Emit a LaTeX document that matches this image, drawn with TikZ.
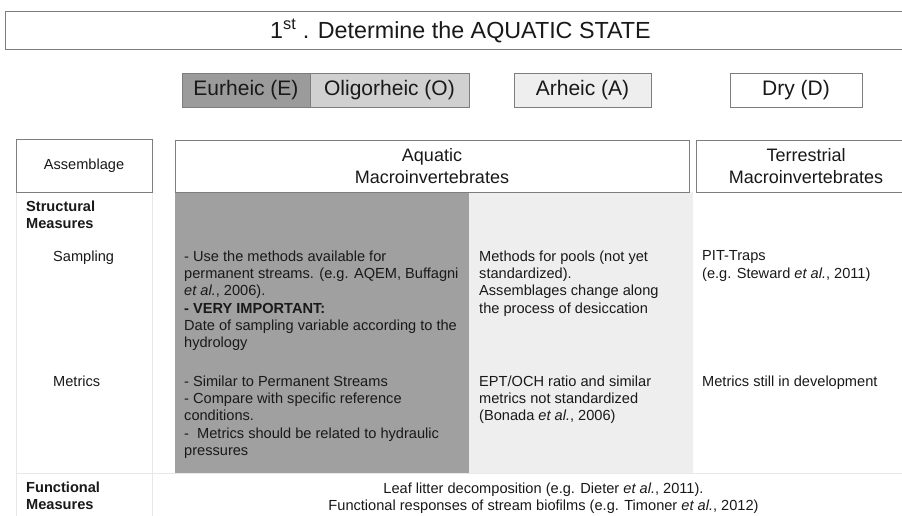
\documentclass[tikz,border=0pt]{standalone}
\usepackage{fontspec}
\setmainfont{Liberation Sans}
\definecolor{ink}{RGB}{25,25,25}
\definecolor{eur}{RGB}{155,155,155}
\definecolor{oli}{RGB}{208,208,208}
\definecolor{arh}{RGB}{238,238,238}
\definecolor{darkcol}{RGB}{160,160,160}
\definecolor{lightcol}{RGB}{238,238,238}
\definecolor{boxline}{RGB}{125,125,125}
\definecolor{faint}{RGB}{232,232,232}
\begin{document}
\begin{tikzpicture}[x=1pt,y=-1pt,
  box/.style={draw=boxline, line width=0.8pt, inner sep=0pt, text=ink},
  statebox/.style={box, minimum height=34, font=\fontsize{21}{25}\selectfont},
  headbox/.style={box, minimum height=52, align=center, font=\fontsize{18}{22}\selectfont},
  txt/.style={inner sep=0pt, text=ink, font=\fontsize{14.6}{17.3}\selectfont},
  blk/.style={txt, align=left, anchor=north west},
  bblk/.style={blk, font=\fontsize{14.6}{17}\selectfont\bfseries},
  faintline/.style={draw=faint, line width=0.8pt}]
\useasboundingbox (0,0) rectangle (902,516);
\fill[white] (0,0) rectangle (902,516);
% title
\node[box, minimum width=915, minimum height=38] (title) at (462.5,30) {};
\node[txt, anchor=base west, font=\fontsize{23.3}{27}\selectfont] (titletext) at (270,38.5) {1\textsuperscript{st} . Determine the AQUATIC STATE};
% aquatic states
\node[statebox, fill=eur, minimum width=128] (eu) at (246,90) {Eurheic (E)};
\node[statebox, fill=oli, minimum width=159] (ol) at (389.5,90) {Oligorheic (O)};
\node[statebox, fill=arh, minimum width=137] (ar) at (582.5,90) {Arheic (A)};
\node[statebox, fill=white, minimum width=132] (dr) at (796,90) {Dry (D)};
% column backgrounds
\node[fill=darkcol, inner sep=0pt, minimum width=294, minimum height=281, anchor=north west] (colE) at (175,192) {};
\node[fill=lightcol, inner sep=0pt, minimum width=224, minimum height=281, anchor=north west] (colA) at (469,192) {};
% faint table lines
\draw[faintline] (16,192) -- (16,516);
\draw[faintline] (152,192) -- (152,516);
\draw[faintline] (16,473) -- (902,473);
% headers
\node[box, minimum width=136, minimum height=53, font=\fontsize{14.6}{17}\selectfont] (asm) at (84,165.5) {Assemblage};
\node[headbox, minimum width=514] (aq) at (432,166) {Aquatic\\Macroinvertebrates};
\node[headbox, minimum width=220] (te) at (806,166) {Terrestrial\\Macroinvertebrates};
% left column
\node[bblk] (struct) at (26,200.5) {Structural\\Measures};
\node[txt, anchor=base west] (samp) at (53,261) {Sampling};
\node[txt, anchor=base west] (metr) at (53,386) {Metrics};
\node[bblk] (func) at (26,481.5) {Functional\\Measures};
% eurheic / oligorheic column
\node[blk] (eS) at (184,250.5) {- Use the methods available for\\permanent streams. (e.g. AQEM, Buffagni\\\textit{et al.}, 2006).\\\textbf{- VERY IMPORTANT:}\\Date of sampling variable according to the\\hydrology};
\node[blk] (eM) at (184,375.5) {- Similar to Permanent Streams\\- Compare with specific reference\\conditions.\\- \ Metrics should be related to hydraulic\\pressures};
% arheic column
\node[blk] (aS) at (479,250.5) {Methods for pools (not yet\\standardized).\\Assemblages change along\\the process of desiccation};
\node[blk] (aM) at (479,375.5) {EPT/OCH ratio and similar\\metrics not standardized\\(Bonada \textit{et al.}, 2006)};
% dry column
\node[blk] (dS) at (702,250.5) {PIT-Traps\\(e.g. Steward \textit{et al.}, 2011)};
\node[txt, anchor=base west] (dM) at (702,386) {Metrics still in development};
% functional row
\node[txt, align=center, anchor=north, font=\fontsize{14.6}{17}\selectfont] (fun) at (543.5,482.5) {Leaf litter decomposition (e.g. Dieter \textit{et al.}, 2011).\\Functional responses of stream biofilms (e.g. Timoner \textit{et al.}, 2012)};
\end{tikzpicture}
\end{document}
